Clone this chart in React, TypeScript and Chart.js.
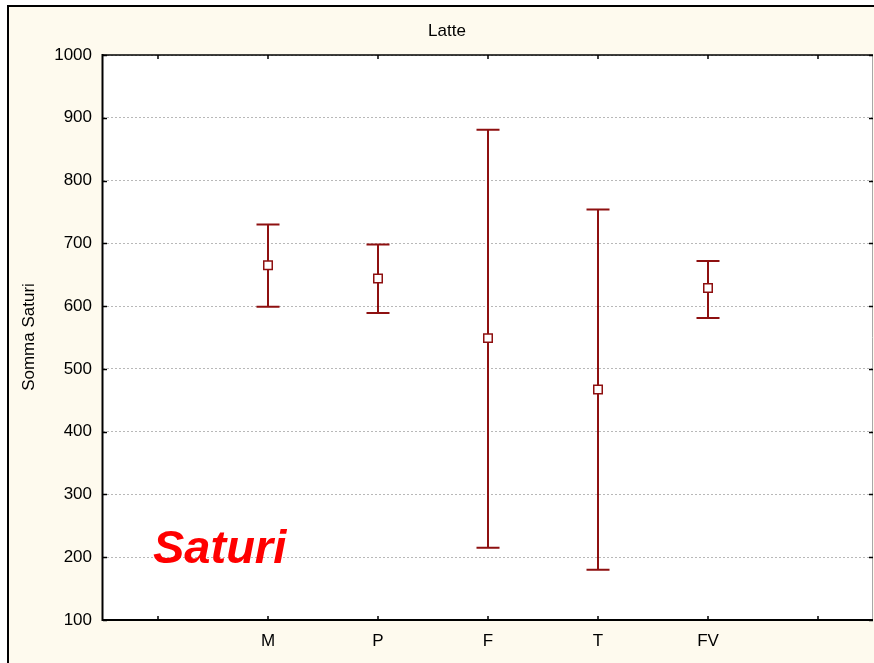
import React, { useEffect, useRef } from "react";
import { Chart, registerables } from "chart.js";

Chart.register(...registerables);

const CATEGORIES = ["", "M", "P", "F", "T", "FV", ""];
const MEANS = [null, 665, 644, 549, 467, 629, null];
const UPPER = [null, 730, 698, 881, 754, 672, null];
const LOWER = [null, 599, 589, 215, 180, 581, null];
const Y_MIN = 100;
const Y_MAX = 1000;
const Y_STEP = 100;
const TITLE = "Latte";
const Y_TITLE = "Somma Saturi";
const NOTE = "Saturi";

const FONT = "'Liberation Sans', Arial, sans-serif";
const RED = "#8e1010";
const CREAM = "#fefaee";

const decorPlugin = {
  id: "decor",
  beforeDraw(chart: any) {
    const { ctx, chartArea: a, width, height } = chart;
    ctx.save();
    ctx.fillStyle = "#ffffff";
    ctx.fillRect(0, 0, width, height);
    ctx.fillStyle = CREAM;
    ctx.fillRect(8, 6, width - 8, height - 6);
    ctx.strokeStyle = "#000";
    ctx.lineWidth = 2;
    ctx.beginPath();
    ctx.moveTo(8, height);
    ctx.lineTo(8, 6);
    ctx.lineTo(width, 6);
    ctx.stroke();
    ctx.fillStyle = "#ffffff";
    ctx.fillRect(a.left, a.top, a.right - a.left, a.bottom - a.top);
    // titles
    ctx.fillStyle = "#000";
    ctx.font = `17px ${FONT}`;
    ctx.textAlign = "center";
    ctx.textBaseline = "middle";
    ctx.fillText(TITLE, 447, 31);
    ctx.translate(29, 337);
    ctx.rotate(-Math.PI / 2);
    ctx.fillText(Y_TITLE, 0, 0);
    ctx.restore();
  },
  beforeDatasetsDraw(chart: any) {
    const { ctx } = chart;
    const xs = chart.scales.x;
    const ys = chart.scales.y;
    ctx.save();
    ctx.strokeStyle = RED;
    ctx.lineWidth = 2;
    for (let i = 0; i < CATEGORIES.length; i++) {
      const hi = UPPER[i];
      const lo = LOWER[i];
      if (hi == null || lo == null) continue;
      const x = Math.round(xs.getPixelForValue(i));
      const yh = ys.getPixelForValue(hi);
      const yl = ys.getPixelForValue(lo);
      ctx.beginPath();
      ctx.moveTo(x, yh);
      ctx.lineTo(x, yl);
      ctx.moveTo(x - 11.5, yh);
      ctx.lineTo(x + 11.5, yh);
      ctx.moveTo(x - 11.5, yl);
      ctx.lineTo(x + 11.5, yl);
      ctx.stroke();
    }
    ctx.restore();
  },
  afterDraw(chart: any) {
    const { ctx, chartArea: a } = chart;
    const xs = chart.scales.x;
    const ys = chart.scales.y;
    ctx.save();
    // borders
    ctx.strokeStyle = "#a8a8a8";
    ctx.lineWidth = 1;
    ctx.beginPath();
    ctx.moveTo(a.right - 0.5, a.top);
    ctx.lineTo(a.right - 0.5, a.bottom);
    ctx.stroke();
    ctx.strokeStyle = "#000";
    ctx.lineWidth = 1.5;
    ctx.beginPath();
    ctx.moveTo(a.left, a.top);
    ctx.lineTo(a.right, a.top);
    ctx.stroke();
    ctx.lineWidth = 2;
    ctx.beginPath();
    ctx.moveTo(a.left - 0.5, a.top - 1);
    ctx.lineTo(a.left - 0.5, a.bottom);
    ctx.lineTo(a.right, a.bottom);
    ctx.stroke();
    // ticks (inward)
    ctx.lineWidth = 1.5;
    ctx.beginPath();
    for (let i = 0; i < CATEGORIES.length; i++) {
      const x = Math.round(xs.getPixelForValue(i));
      ctx.moveTo(x, a.bottom);
      ctx.lineTo(x, a.bottom - 4);
      ctx.moveTo(x, a.top);
      ctx.lineTo(x, a.top + 4);
    }
    for (let v = Y_MIN; v <= Y_MAX; v += Y_STEP) {
      const y = Math.round(ys.getPixelForValue(v)) + 0.5;
      ctx.moveTo(a.left, y);
      ctx.lineTo(a.left + 4, y);
      ctx.moveTo(a.right, y);
      ctx.lineTo(a.right - 4, y);
    }
    ctx.stroke();
    // note
    ctx.fillStyle = "#ff0000";
    ctx.font = `italic bold 47px ${FONT}`;
    ctx.textAlign = "left";
    ctx.textBaseline = "alphabetic";
    ctx.fillText(NOTE, 153, 563);
    ctx.restore();
  },
};

export default function App() {
  const ref = useRef<HTMLCanvasElement>(null);
  useEffect(() => {
    document.body.style.margin = "0";
    const chart = new Chart(ref.current as HTMLCanvasElement, {
      type: "line",
      data: {
        labels: CATEGORIES,
        datasets: [
          {
            data: MEANS as any,
            showLine: false,
            pointStyle: "rect",
            pointRadius: 6,
            pointBorderWidth: 1.5,
            pointBackgroundColor: "#ffffff",
            pointBorderColor: RED,
            borderColor: RED,
          },
        ],
      },
      options: {
        responsive: false,
        animation: false,
        devicePixelRatio: 1,
        layout: {
          autoPadding: false,
          padding: { top: 55, right: 1, left: 0, bottom: 0 },
        },
        plugins: {
          legend: { display: false },
          title: { display: false },
          tooltip: { enabled: false },
        },
        scales: {
          x: {
            type: "category",
            offset: true,
            grid: { display: false, drawTicks: false },
            border: { display: false },
            ticks: {
              color: "#000",
              font: { family: FONT, size: 17 },
              padding: 11,
              autoSkip: false,
              maxRotation: 0,
            },
            afterFit: (s: any) => {
              s.height = 43;
            },
          },
          y: {
            min: Y_MIN,
            max: Y_MAX,
            grid: { color: "#b8b8b8", lineWidth: 1, drawTicks: false },
            border: { display: false, dash: [2, 2] },
            ticks: {
              stepSize: Y_STEP,
              color: "#000",
              font: { family: FONT, size: 17 },
              padding: 11,
              callback: (v: any) => String(v),
            },
            afterFit: (s: any) => {
              s.width = 103;
            },
          },
        },
      },
      plugins: [decorPlugin],
    });
    return () => chart.destroy();
  }, []);
  return (
    <canvas
      ref={ref}
      width={874}
      height={663}
      style={{ display: "block", width: 874, height: 663 }}
    />
  );
}
